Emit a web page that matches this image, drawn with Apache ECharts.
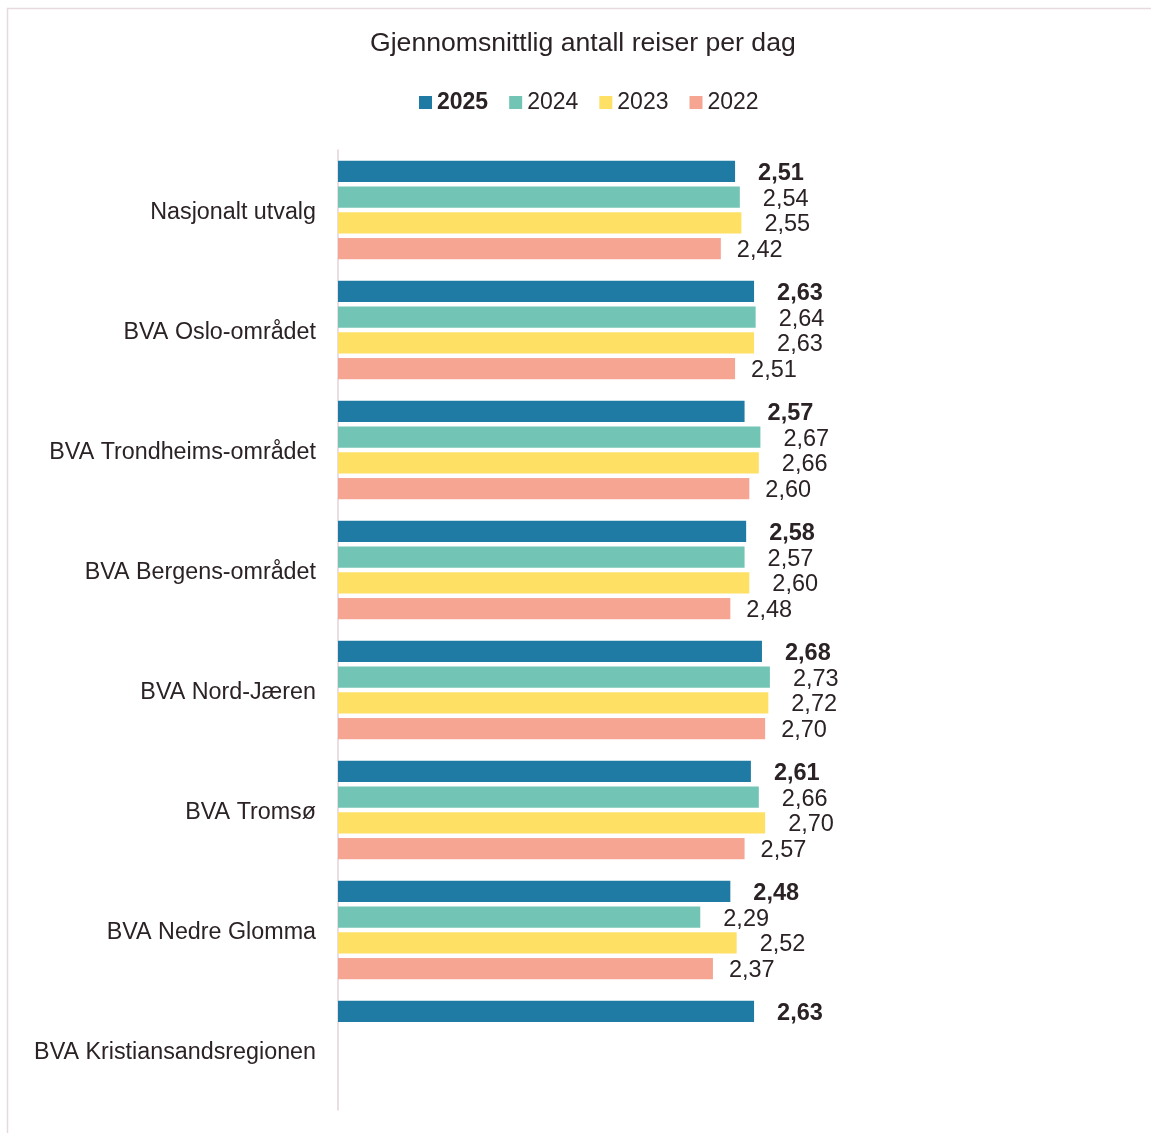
<!DOCTYPE html>
<html><head><meta charset="utf-8">
<script src="https://cdn.jsdelivr.net/npm/echarts@6/dist/echarts.min.js"></script>
<style>html,body{margin:0;padding:0;background:#fff}#c{width:1151px;height:1133px}</style>
</head><body><div id="c"></div>
<script>
const categories = ["Nasjonalt utvalg","BVA Oslo-området","BVA Trondheims-området","BVA Bergens-området","BVA Nord-Jæren","BVA Tromsø","BVA Nedre Glomma","BVA Kristiansandsregionen"];
const years = ["2025","2024","2023","2022"];
const v2025 = [2.51,2.63,2.57,2.58,2.68,2.61,2.48,2.63];
const v2024 = [2.54,2.64,2.67,2.57,2.73,2.66,2.29,null];
const v2023 = [2.55,2.63,2.66,2.60,2.72,2.70,2.52,null];
const v2022 = [2.42,2.51,2.60,2.48,2.70,2.57,2.37,null];
const colors = ["#1f7ba3","#72c4b4","#fde064","#f6a592"];
const txt = "#2b2226";
const font = "'Liberation Sans', Arial, sans-serif";
const values = [v2025,v2024,v2023,v2022];
const dist = [23,23,23,16];
const chart = echarts.init(document.getElementById('c'));
chart.setOption({
  animation:false,
  title:{text:"Gjennomsnittlig antall reiser per dag",left:370,top:30,padding:0,textStyle:{fontFamily:font,fontSize:26.6,fontWeight:'normal',color:txt}},
  legend:{top:86,left:414,itemWidth:13,itemHeight:13,itemGap:21,icon:'rect',
    data:years.map((y,i)=>({name:y,textStyle:{fontWeight:i===0?'bold':'normal'}})),
    textStyle:{fontFamily:font,fontSize:23,color:txt}},
  grid:{left:338,top:150,height:960,width:791},
  xAxis:{type:'value',min:0,max:5,show:false},
  yAxis:{type:'category',data:categories,inverse:true,
    axisLine:{show:true,lineStyle:{color:'#e3d3d9',width:1.5}},axisTick:{show:false},
    axisLabel:{fontFamily:font,fontSize:23.3,color:txt,margin:22,verticalAlign:'top',padding:[-9,0,0,0]}},
  graphic:[{type:'rect',shape:{x:7.5,y:8.5,width:1200,height:1200},style:{fill:'none',stroke:'#e8d9df',lineWidth:1.5},silent:true}],
  series:years.map((y,i)=>({
    name:y,type:'bar',data:values[i],barGap:'21%',barCategoryGap:'18%',
    itemStyle:{color:colors[i]},
    label:{show:true,position:'right',distance:dist[i],offset:[0,2],fontFamily:font,fontSize:23.5,color:txt,
      fontWeight:i===0?'bold':'normal',
      formatter:p=>p.value==null?'':p.value.toFixed(2).replace('.',',')}
  }))
});
</script></body></html>
